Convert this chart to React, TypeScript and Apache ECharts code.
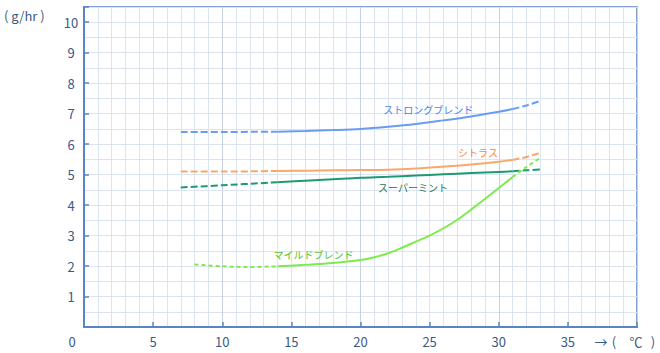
import React, { useEffect, useRef } from "react";
import * as echarts from "echarts";

// Temperature (°C) sample points for each blend
const strongX = [7, 10, 14, 16, 18, 20, 22, 24, 26, 28, 30, 31, 32, 33];
const strongY = [6.4, 6.4, 6.41, 6.43, 6.46, 6.5, 6.57, 6.66, 6.78, 6.91, 7.06, 7.15, 7.27, 7.42];

const citrusX = [7, 10, 14, 16, 18, 20, 22, 24, 26, 28, 30, 31, 32, 33];
const citrusY = [5.1, 5.1, 5.12, 5.13, 5.14, 5.15, 5.16, 5.2, 5.26, 5.33, 5.42, 5.48, 5.58, 5.72];

const mintX = [7, 10, 14, 16, 18, 20, 22, 24, 26, 28, 30, 31, 32, 33];
const mintY = [4.58, 4.65, 4.75, 4.8, 4.85, 4.9, 4.93, 4.97, 5.01, 5.05, 5.09, 5.11, 5.14, 5.17];

const mildX = [8, 10, 12, 14, 16, 18, 20, 21, 22, 23, 24, 25, 26, 27, 28, 29, 30, 31, 32, 33];
const mildY = [2.05, 1.99, 1.97, 1.99, 2.04, 2.1, 2.2, 2.29, 2.42, 2.6, 2.8, 3.0, 3.24, 3.52, 3.85, 4.2, 4.56, 4.92, 5.25, 5.55];

// Measured (solid) range; outside it the curves are dashed (extrapolated)
const solidFrom = 14;
const solidTo = 31;

const seriesNames = ["ストロングブレンド", "シトラス", "スーパーミント", "マイルドブレンド"];
const seriesColors = ["#6a9cf3", "#f9a86a", "#1e9a72", "#7deb4c"];
const labelColors = ["#4a86e8", "#f08a3c", "#1f7452", "#55c22c"];
const labelX = [24.9, 28.5, 23.8, 16.6];
const labelY = [7.15, 5.74, 4.59, 2.38];

// Axis extents
const xMax = 40;
const yMax = 10.5;

const AXIS = "#5a84c6";
const TXT = "#3b5a85";
const GRID_MINOR = "#dbe4f0";
const GRID_MAJOR = "#c4d1e6";
const FONT = "'Noto Sans CJK JP', 'Noto Sans', sans-serif";

function segments(xs: number[], ys: number[], idx: number, dash: number[]) {
  const pts = xs.map((x, i) => [x, ys[i]]);
  const left = pts.filter((p) => p[0] <= solidFrom);
  const mid = pts.filter((p) => p[0] >= solidFrom && p[0] <= solidTo);
  const right = pts.filter((p) => p[0] >= solidTo);
  const c = seriesColors[idx];
  const base = {
    type: "line",
    xAxisIndex: 2,
    yAxisIndex: 1,
    smooth: 0.35,
    showSymbol: false,
    symbol: "none",
    silent: true,
    itemStyle: { color: c },
  };
  return [
    { ...base, name: seriesNames[idx] + "-a", data: left, lineStyle: { width: 2, color: c, type: dash } },
    { ...base, name: seriesNames[idx], data: mid, lineStyle: { width: 2, color: c, type: "solid" } },
    { ...base, name: seriesNames[idx] + "-b", data: right, lineStyle: { width: 2, color: c, type: dash } },
  ];
}

export default function App() {
  const ref = useRef<HTMLDivElement>(null);
  useEffect(() => {
    const chart = echarts.init(ref.current!, null, { renderer: "svg" });
    const hidden = {
      axisLine: { show: false },
      axisTick: { show: false },
      axisLabel: { show: false },
    };
    chart.setOption({
      animation: false,
      color: seriesColors,
      grid: {
        left: 84,
        top: 7,
        right: 23,
        bottom: 26,
        show: true,
        borderColor: AXIS,
        borderWidth: 1.5,
        backgroundColor: "#ffffff",
      },
      xAxis: [
        { type: "value", min: 0, max: xMax, interval: 1, position: "top", ...hidden, splitLine: { show: true, lineStyle: { color: GRID_MINOR, width: 1 } } },
        { type: "value", min: 0, max: xMax, interval: 10, position: "top", ...hidden, splitLine: { show: true, lineStyle: { color: GRID_MAJOR, width: 1 } } },
        {
          type: "value",
          min: 0,
          max: xMax,
          interval: 5,
          position: "bottom",
          axisLine: { show: true, onZero: false, lineStyle: { color: AXIS, width: 2 } },
          axisTick: { show: true, inside: true, length: 5, lineStyle: { color: AXIS, width: 1.5 } },
          axisLabel: {
            color: TXT,
            fontSize: 13,
            fontFamily: FONT,
            margin: 8,
            formatter: (v: number) => (v === 0 || v === xMax ? "" : String(v)),
          },
          splitLine: { show: false },
        },
      ],
      yAxis: [
        { type: "value", min: 0, max: yMax, interval: 0.5, position: "right", ...hidden, splitLine: { show: true, lineStyle: { color: GRID_MINOR, width: 1 } } },
        {
          type: "value",
          min: 0,
          max: yMax,
          interval: 1,
          position: "left",
          axisLine: { show: true, onZero: false, lineStyle: { color: AXIS, width: 2 } },
          axisTick: { show: true, inside: true, length: 5, lineStyle: { color: AXIS, width: 1.5 } },
          axisLabel: {
            color: TXT,
            fontSize: 13,
            fontFamily: FONT,
            margin: 13,
            align: "center",
            formatter: (v: number) => (v > 0 && v <= 10 && Number.isInteger(v) ? String(v) : ""),
          },
          splitLine: { show: false },
        },
      ],
      series: [
        ...segments(strongX, strongY, 0, [7, 3]),
        ...segments(citrusX, citrusY, 1, [7, 3]),
        ...segments(mintX, mintY, 2, [7, 3]),
        ...segments(mildX, mildY, 3, [4, 3]),
      ],
    });
    const labelGraphics = seriesNames.map((n, i) => {
      const p = chart.convertToPixel({ xAxisIndex: 2, yAxisIndex: 1 }, [labelX[i], labelY[i]]) as number[];
      return {
        type: "text",
        x: p[0],
        y: p[1],
        silent: true,
        style: { text: n, fontSize: 10, fontFamily: FONT, fill: labelColors[i], align: "center", verticalAlign: "middle" },
      };
    });
    const mid = { fontSize: 13, fontFamily: FONT, fill: TXT, align: "center", verticalAlign: "middle" };
    chart.setOption({
      graphic: [
        ...labelGraphics,
        { type: "text", left: 4, top: 9, style: { text: "( g/hr )", fontSize: 13, fontFamily: FONT, fill: TXT } },
        { type: "text", x: 72, y: 341, style: { ...mid, text: "0" } },
        { type: "text", x: 601, y: 341, style: { ...mid, text: "→" } },
        { type: "text", x: 614, y: 341, style: { ...mid, text: "(" } },
        { type: "text", x: 636, y: 341, style: { ...mid, text: "℃" } },
        { type: "text", x: 653, y: 341, style: { ...mid, text: ")" } },
      ],
    });
    return () => chart.dispose();
  }, []);
  return <div ref={ref} style={{ position: "absolute", left: 0, top: 0, width: 660, height: 353 }} />;
}
